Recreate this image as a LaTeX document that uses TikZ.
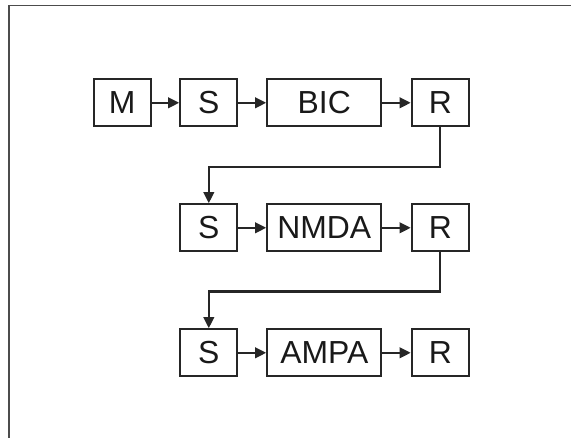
\documentclass[tikz,border=0pt]{standalone}
\usepackage{fontspec}
\setmainfont{Liberation Sans}
\usetikzlibrary{arrows.meta}
\begin{document}
\begin{tikzpicture}[x=1bp, y=-1bp,
    blk/.style={draw, line width=2.2bp, black!85, text=black!90, minimum height=47bp, inner sep=0pt,
        font=\fontsize{32}{34}\selectfont},
    sq/.style={blk, minimum width=57bp},
    wide/.style={blk, minimum width=114bp},
    arr/.style={line width=2.2bp, black!85, -{Triangle[length=11bp,width=10.5bp]}}]
    % page and frame
    \useasboundingbox (0,0) rectangle (571,438);
    \draw[line width=1.4bp, black!70] (571,5.5) -- (9,5.5) -- (9,438);

    % Row 1
    \node[sq] (M) at (122.2,102.8) {M};
    \node[sq] (S1) at (208.8,102.8) {S};
    \node[wide] (BIC) at (324.3,102.8) {BIC};
    \node[sq] (R1) at (440.3,102.8) {R};

    % Row 2
    \node[sq] (S2) at (208.8,227.8) {S};
    \node[wide] (NMDA) at (324.3,227.8) {NMDA};
    \node[sq] (R2) at (440.3,227.8) {R};

    % Row 3
    \node[sq] (S3) at (208.8,352.8) {S};
    \node[wide] (AMPA) at (324.3,352.8) {AMPA};
    \node[sq] (R3) at (440.3,352.8) {R};

    % Arrows along the rows
    \draw[arr] (M) -- (S1);
    \draw[arr] (S1) -- (BIC);
    \draw[arr] (BIC) -- (R1);
    \draw[arr] (S2) -- (NMDA);
    \draw[arr] (NMDA) -- (R2);
    \draw[arr] (S3) -- (AMPA);
    \draw[arr] (AMPA) -- (R3);

    % Links down to the next row
    \draw[arr] (R1.south) -- ++(0,39.5) -| (S2.north);
    \draw[arr] (R2.south) -- ++(0,39) -| (S3.north);
\end{tikzpicture}
\end{document}
